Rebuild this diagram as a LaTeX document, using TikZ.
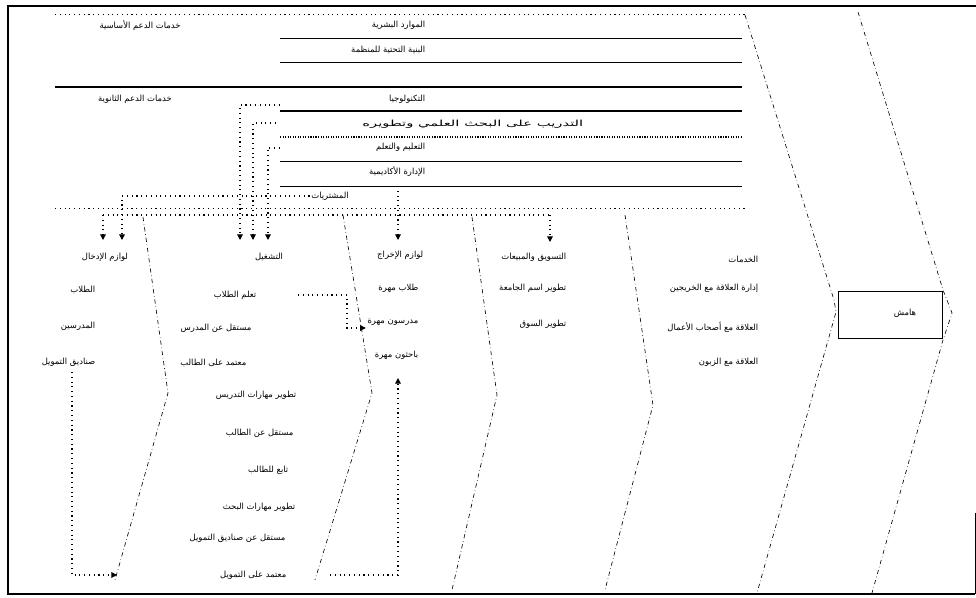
\documentclass[tikz,border=0pt]{standalone}
\usepackage{graphicx}
\usepackage{fontspec}
\newfontfamily\arabicfont[Script=Arabic]{DejaVu Sans}
\TeXXeTstate=1
\usetikzlibrary{positioning, arrows.meta}
\newcommand{\rtl}[1]{\beginR #1\endR}

\begin{document}
\begin{tikzpicture}[
  x=0.025cm, y=-0.025cm,
  every node/.style={font=\arabicfont\fontsize{6}{7}\selectfont, inner sep=1pt},
  lbl/.style={anchor=east},
  rowline/.style={line width=0.6pt},
  edge/.style={dash dot, line width=0.45pt},
  flow/.style={dash pattern=on 0.8pt off 2.6pt, line width=0.8pt},
  tip/.style={flow, -{Triangle[length=4pt, width=4pt]}},
  note/.style={draw, line width=0.5pt, minimum width=2.6cm, minimum height=1.17cm}
]
\useasboundingbox (0,0) rectangle (976,598);

% Frame
\draw[line width=1.4pt] (976,6) -- (8,6) -- (8,594) -- (975,594);
\draw[line width=0.4pt] (975,513) -- (975,594);

% Support rows
\draw[flow, line width=0.4pt] (55,14) -- (745,14);
\foreach \y in {38,62,161,186}
  \draw[rowline] (280,\y) -- (742,\y);
\draw[line width=0.8pt] (280,111) -- (742,111);
\draw[line width=1pt] (55,87) -- (742,87);
\draw[densely dotted, line width=0.8pt] (280,137) -- (742,137);
\draw[flow, line width=0.4pt] (55,208) -- (745,208);

% Support labels
\node (basic) at (140,25) {\rtl{خدمات الدعم الأساسية}};
\node (second) at (135,99) {\rtl{خدمات الدعم الثانوية}};
\node[lbl] (hr) at (427,25) {\rtl{الموارد البشرية}};
\node[lbl] (infra) at (427,50) {\rtl{البنية التحتية للمنظمة}};
\node[lbl] (tech) at (427,99) {\rtl{التكنولوجيا}};
\node[lbl] (research) at (585,124) {\scalebox{1.75}[1]{\rtl{التدريب على البحث العلمي وتطويره}}};
\node[lbl] (teach) at (427,147) {\rtl{التعليم والتعلم}};
\node[lbl] (acad) at (427,172) {\rtl{الإدارة الأكاديمية}};
\node (buy) at (330,196) {\rtl{المشتريات}};

% Column borders
\draw[edge] (143,217) -- (168,393) -- (115,580);
\draw[edge] (343,215) -- (372,393) -- (315,580);
\draw[edge] (472,217) -- (497,395) -- (452,590);
\draw[edge] (625,215) -- (653,405) -- (605,590);
\draw[edge] (745,15) -- (834,300) -- (836,312) -- (757,593);
\draw[edge] (858,12) -- (943,290) -- (952,313) -- (943,340) -- (872,593);

% Inbound
\node (inb) at (105,257) {\rtl{لوازم الإدخال}};
\node[lbl] (students) at (97,290) {\rtl{الطلاب}};
\node[lbl] (teachers) at (97,326) {\rtl{المدرسين}};
\node[lbl] (funds) at (97,362) {\rtl{صناديق التمويل}};

% Operations
\node (ops) at (269,257) {\rtl{التشغيل}};
\node[lbl] (learn) at (258,295) {\rtl{تعلم الطلاب}};
\node[lbl] (indtch) at (253,328) {\rtl{مستقل عن المدرس}};
\node[lbl] (depstd) at (248,363) {\rtl{معتمد على الطالب}};
\node[lbl] (tskill) at (298,395) {\rtl{تطوير مهارات التدريس}};
\node[lbl] (indstd) at (295,433) {\rtl{مستقل عن الطالب}};
\node[lbl] (follow) at (290,470) {\rtl{تابع للطالب}};
\node[lbl] (rskill) at (297,507) {\rtl{تطوير مهارات البحث}};
\node[lbl] (indfund) at (287,538) {\rtl{مستقل عن صناديق التمويل}};
\node[lbl] (depfund) at (288,575) {\rtl{معتمد على التمويل}};

% Outbound
\node[lbl] (outb) at (425,255) {\rtl{لوازم الإخراج}};
\node[lbl] (skstd) at (420,288) {\rtl{طلاب مهرة}};
\node[lbl] (sktch) at (420,322) {\rtl{مدرسون مهرة}};
\node[lbl] (skres) at (420,355) {\rtl{باحثون مهرة}};

% Marketing
\node[lbl] (mkt) at (568,257) {\rtl{التسويق والمبيعات}};
\node[lbl] (name) at (568,288) {\rtl{تطوير اسم الجامعة}};
\node[lbl] (market) at (568,324) {\rtl{تطوير السوق}};

% Services
\node[lbl] (serv) at (760,259) {\rtl{الخدمات}};
\node[lbl] (alumni) at (760,288) {\rtl{إدارة العلاقة مع الخريجين}};
\node[lbl] (biz) at (760,327) {\rtl{العلاقة مع أصحاب الأعمال}};
\node[lbl] (cust) at (760,362) {\rtl{العلاقة مع الزبون}};

% Margin
\node[note] (margin) at (890,315) {};
\node (marginlbl) at (905,313) {\rtl{هامش}};

% Flows
\coordinate (t1) at (280,105);
\coordinate (t2) at (276,123);
\coordinate (t3) at (280,148);
\draw[tip] (t1) -| (240,240);
\draw[tip] (t2) -| (253,240);
\draw[tip] (t3) -| (268,240);
\draw[tip] (buy.west) -| (122,240);
\draw[tip] (398,186) -- (398,240);
\draw[flow] (103,215) -- (550,215);
\draw[tip] (103,215) -- (103,240);
\draw[tip] (550,215) -- (550,242);
\coordinate (l1) at ([xshift=1cm]learn.east);
\coordinate (l2) at (347,328);
\draw[tip] (l1) -| (l2) -- (sktch.west |- l2);
\draw[tip] (72,372) |- (117,575);
\coordinate (d1) at (330,575);
\draw[tip] (d1) -| (398,378);

\end{tikzpicture}
\end{document}
